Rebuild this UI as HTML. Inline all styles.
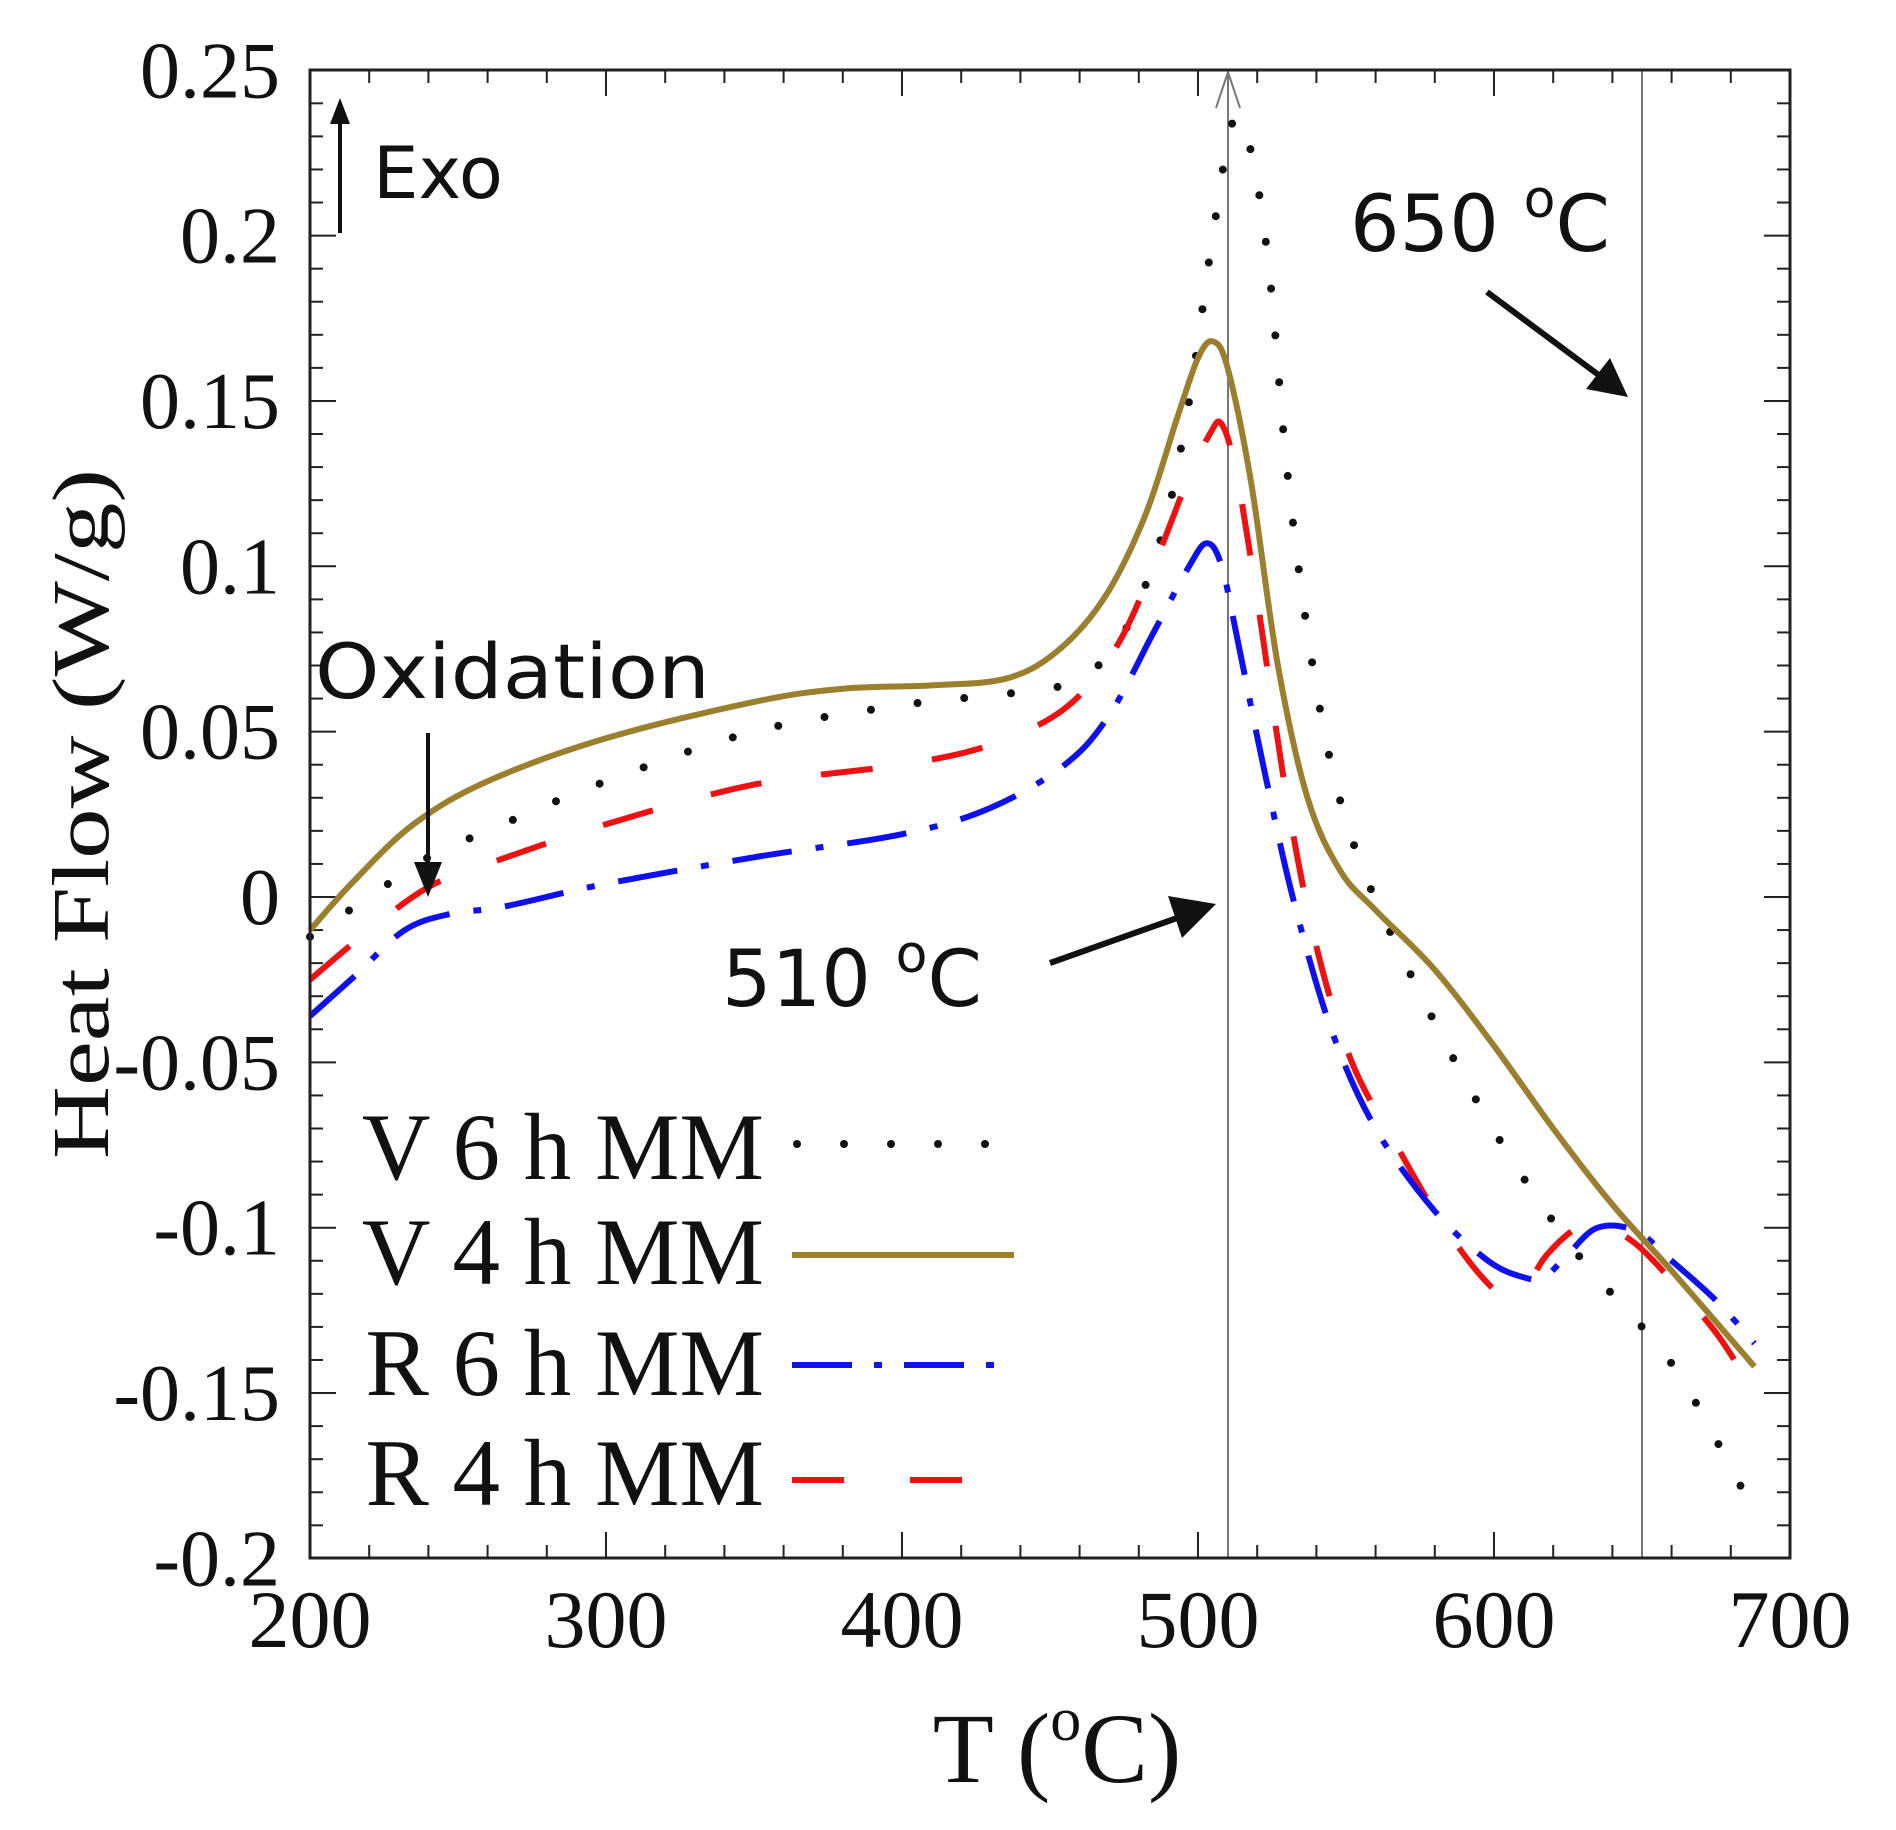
<!DOCTYPE html>
<html><head><meta charset="utf-8"><style>
html,body{margin:0;padding:0;background:#fff;}
svg{display:block;}
.t{font-family:"Liberation Serif",serif;fill:#111;}
.s{font-family:"DejaVu Sans","Liberation Sans",sans-serif;fill:#111;}
</style></head><body>
<svg id="c" width="1896" height="1830" viewBox="0 0 1896 1830" xmlns="http://www.w3.org/2000/svg">
<rect x="0" y="0" width="1896" height="1830" fill="#fff"/>
<g id="ticks" stroke="#222" stroke-width="2"></g>
<line x1="1228" y1="70" x2="1228" y2="1558" stroke="#777" stroke-width="2"/>
<line x1="1642" y1="70" x2="1642" y2="1558" stroke="#777" stroke-width="2"/>
<polyline points="1216,108 1228,72 1240,108" fill="none" stroke="#777" stroke-width="2"/>
<g id="curves" fill="none" stroke-width="6"></g>
<rect x="310" y="70" width="1480" height="1488" fill="none" stroke="#222" stroke-width="3"/>
<g class="t" font-size="80" text-anchor="end" id="ylab"></g>
<g class="t" font-size="82" text-anchor="middle" id="xlab"></g>
<text class="t" font-size="90" text-anchor="middle" transform="translate(108,814) rotate(-90) scale(1,0.9)" textLength="690" lengthAdjust="spacingAndGlyphs">Heat Flow (W/g)</text>
<text class="t" font-size="100" x="1057" y="1782" text-anchor="middle">T (<tspan font-size="62" dy="-42">o</tspan><tspan dy="42">C)</tspan></text>
<line x1="340" y1="233" x2="340" y2="118" stroke="#111" stroke-width="4"/>
<polygon points="340,98 330,124 350,124" fill="#111"/>
<text class="s" font-size="72" x="373" y="198">Exo</text>
<text class="s" font-size="76" x="315" y="698" textLength="395" lengthAdjust="spacingAndGlyphs">Oxidation</text>
<line x1="428" y1="733" x2="428" y2="870" stroke="#111" stroke-width="4"/>
<polygon points="428,897 414,862 442,862" fill="#111"/>
<text class="s" font-size="78" x="1350" y="251">650 <tspan font-size="52" dy="-34">o</tspan><tspan dy="34">C</tspan></text>
<text class="s" font-size="78" x="722" y="1006">510 <tspan font-size="52" dy="-34">o</tspan><tspan dy="34">C</tspan></text>
<line x1="1050" y1="963" x2="1180" y2="917" stroke="#111" stroke-width="6"/>
<polygon points="1216,904 1168,896 1182,938" fill="#111"/>
<line x1="1487" y1="292" x2="1600" y2="376" stroke="#111" stroke-width="6"/>
<polygon points="1628,397 1586,389 1610,358" fill="#111"/>
<g class="t" font-size="95" text-anchor="end">
<text x="764" y="1179">V 6 h MM</text>
<text x="764" y="1284">V 4 h MM</text>
<text x="764" y="1395">R 6 h MM</text>
<text x="764" y="1505">R 4 h MM</text>
</g>
<g fill="none" stroke-width="6">
<line x1="797" y1="1144" x2="1010" y2="1144" stroke="#111" stroke-width="8" stroke-linecap="round" stroke-dasharray="0 47"/>
<line x1="792" y1="1255" x2="1014" y2="1255" stroke="#9a7f2e"/>
<line x1="792" y1="1365" x2="1014" y2="1365" stroke="#1010ee" stroke-dasharray="60 22 8 22"/>
<line x1="792" y1="1480" x2="970" y2="1480" stroke="#ee1111" stroke-dasharray="52 66"/>
</g>
</svg>
<script>
(function(){
var NS="http://www.w3.org/2000/svg";
function X(t){return 310+(t-200)*2.96;}
function Y(v){return 897-v*3307;}
function el(p,n,a){var e=document.createElementNS(NS,n);for(var k in a)e.setAttribute(k,a[k]);p.appendChild(e);return e;}
var tk=document.getElementById('ticks');
for(var t=200;t<=700;t+=20){var m=(t%100==0);var L=m?26:13;var x=X(t);
 el(tk,'line',{x1:x,y1:1558,x2:x,y2:1558-L});el(tk,'line',{x1:x,y1:70,x2:x,y2:70+L});}
for(var i=-20;i<=25;i++){var v=i/100;var m=(i%5==0);var L=m?26:13;var y=Y(v);
 el(tk,'line',{x1:310,y1:y,x2:310+L,y2:y});el(tk,'line',{x1:1790,y1:y,x2:1790-L,y2:y});}
var yl=document.getElementById('ylab');
var ylabs=[[0.25,"0.25"],[0.2,"0.2"],[0.15,"0.15"],[0.1,"0.1"],[0.05,"0.05"],[0,"0"],[-0.05,"-0.05"],[-0.1,"-0.1"],[-0.15,"-0.15"],[-0.2,"-0.2"]];
ylabs.forEach(function(a){var e=el(yl,'text',{x:280,y:Y(a[0])+27});e.textContent=a[1];});
var xl=document.getElementById('xlab');
for(var t=200;t<=700;t+=100){var e=el(xl,'text',{x:X(t),y:1647});e.textContent=t;}
function path(pts){var P=pts.map(function(p){return [X(p[0]),Y(p[1])];});
 var d="M"+P[0][0].toFixed(1)+","+P[0][1].toFixed(1);
 for(var i=0;i<P.length-1;i++){var p0=P[i-1]||P[i],p1=P[i],p2=P[i+1],p3=P[i+2]||P[i+1];
  var c1=[p1[0]+(p2[0]-p0[0])/6,p1[1]+(p2[1]-p0[1])/6],c2=[p2[0]-(p3[0]-p1[0])/6,p2[1]-(p3[1]-p1[1])/6];
  d+=" C"+c1[0].toFixed(1)+","+c1[1].toFixed(1)+" "+c2[0].toFixed(1)+","+c2[1].toFixed(1)+" "+p2[0].toFixed(1)+","+p2[1].toFixed(1);}
 return d;}
var cv=document.getElementById('curves');
var V6=[[200,-0.012],[220,0.0],[240,0.012],[260,0.02],[300,0.035],[350,0.05],[400,0.058],[440,0.062],[460,0.066],[475,0.08],[488,0.11],[497,0.15],[505,0.2],[512,0.235],[518,0.225],[524,0.19],[530,0.13],[537,0.08],[545,0.04],[555,0.01],[570,-0.02],[590,-0.055],[610,-0.085],[630,-0.11],[650,-0.13],[665,-0.148],[688,-0.186]];
var V4=[[200,-0.01],[215,0.005],[235,0.022],[260,0.035],[300,0.048],[350,0.059],[380,0.063],[410,0.064],[435,0.066],[452,0.074],[468,0.09],[482,0.115],[493,0.145],[500,0.163],[505,0.168],[510,0.16],[518,0.125],[527,0.07],[537,0.03],[548,0.008],[560,-0.004],[580,-0.022],[600,-0.045],[620,-0.07],[640,-0.093],[660,-0.113],[688,-0.142]];
var R6=[[200,-0.036],[215,-0.024],[232,-0.01],[248,-0.005],[265,-0.003],[300,0.004],[350,0.012],[400,0.019],[430,0.027],[455,0.04],[470,0.055],[485,0.08],[497,0.1],[503,0.107],[508,0.1],[514,0.075],[522,0.04],[532,0.0],[545,-0.04],[560,-0.07],[580,-0.095],[598,-0.11],[610,-0.115],[617,-0.115],[625,-0.108],[635,-0.1],[648,-0.101],[660,-0.11],[675,-0.122],[688,-0.135]];
var R4=[[200,-0.025],[220,-0.01],[240,0.003],[260,0.01],[300,0.022],[350,0.034],[400,0.04],[430,0.046],[455,0.057],[472,0.075],[485,0.1],[496,0.125],[504,0.14],[508,0.143],[513,0.128],[520,0.09],[530,0.03],[540,-0.015],[552,-0.05],[567,-0.075],[582,-0.098],[596,-0.115],[605,-0.121],[612,-0.116],[618,-0.108],[628,-0.1],[636,-0.099],[648,-0.105],[662,-0.118],[676,-0.133],[688,-0.15]];
el(cv,'path',{d:path(V6),stroke:'#111','stroke-width':8,'stroke-linecap':'round','stroke-dasharray':'0 47'});
el(cv,'path',{d:path(R4),stroke:'#ee1111','stroke-dasharray':'52 60'});
el(cv,'path',{d:path(R6),stroke:'#1010ee','stroke-dasharray':'60 24 8 24'});
el(cv,'path',{d:path(V4),stroke:'#9a7f2e'});
})();
</script>
</body></html>
